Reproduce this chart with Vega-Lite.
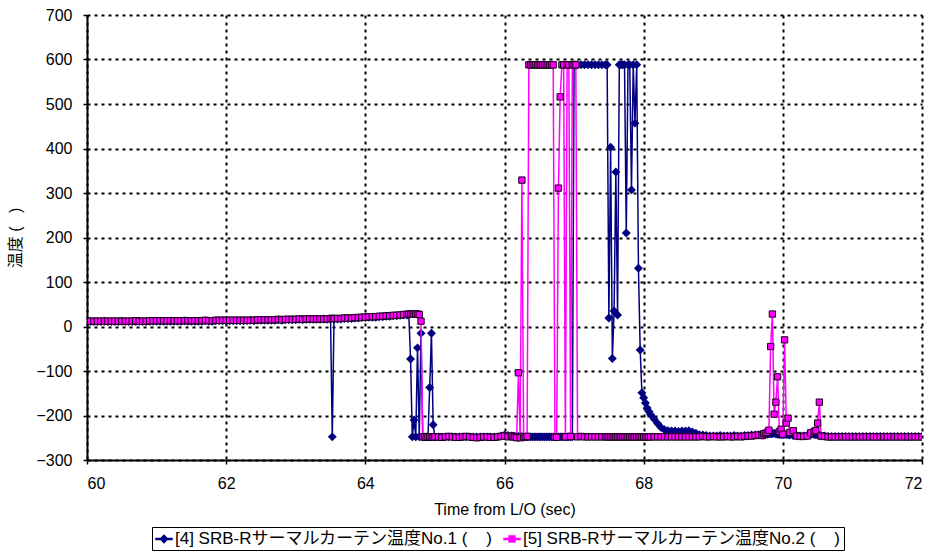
{
"$schema": "https://vega.github.io/schema/vega-lite/v6.json",
"autosize": "none",
"width": 835,
"height": 445,
"padding": {"left": 87, "top": 15, "right": 16, "bottom": 93},
"background": "white",
"data": {"values": [
{"t":60,"a":11,"b":12},{"t":60.05,"a":11,"b":12},{"t":60.1,"a":11,"b":12},{"t":60.15,"a":11,"b":12},{"t":60.2,"a":11,"b":12},{"t":60.25,"a":12,"b":12},{"t":60.3,"a":11,"b":12},{"t":60.35,"a":11,"b":12},{"t":60.4,"a":11,"b":12},{"t":60.45,"a":11,"b":12},
{"t":60.5,"a":12,"b":12},{"t":60.55,"a":11,"b":12},{"t":60.6,"a":11,"b":12},{"t":60.65,"a":11,"b":12},{"t":60.7,"a":11,"b":13},{"t":60.75,"a":12,"b":12},{"t":60.8,"a":11,"b":12},{"t":60.85,"a":11,"b":12},{"t":60.9,"a":12,"b":13},{"t":60.95,"a":12,"b":13},
{"t":61,"a":12,"b":13},{"t":61.05,"a":12,"b":13},{"t":61.1,"a":12,"b":13},{"t":61.15,"a":12,"b":13},{"t":61.2,"a":12,"b":13},{"t":61.25,"a":12,"b":13},{"t":61.3,"a":12,"b":13},{"t":61.35,"a":12,"b":13},{"t":61.4,"a":13,"b":13},{"t":61.45,"a":12,"b":13},
{"t":61.5,"a":12,"b":13},{"t":61.55,"a":12,"b":13},{"t":61.6,"a":12,"b":13},{"t":61.65,"a":12,"b":13},{"t":61.7,"a":13,"b":14},{"t":61.75,"a":12,"b":13},{"t":61.8,"a":12,"b":13},{"t":61.85,"a":13,"b":14},{"t":61.9,"a":13,"b":14},{"t":61.95,"a":13,"b":14},
{"t":62,"a":13,"b":14},{"t":62.05,"a":13,"b":14},{"t":62.1,"a":13,"b":14},{"t":62.15,"a":13,"b":14},{"t":62.2,"a":13,"b":14},{"t":62.25,"a":13,"b":14},{"t":62.3,"a":13,"b":14},{"t":62.35,"a":14,"b":14},{"t":62.4,"a":13,"b":14},{"t":62.45,"a":14,"b":15},
{"t":62.5,"a":14,"b":15},{"t":62.55,"a":14,"b":15},{"t":62.6,"a":14,"b":15},{"t":62.65,"a":14,"b":15},{"t":62.7,"a":14,"b":15},{"t":62.75,"a":15,"b":16},{"t":62.8,"a":14,"b":15},{"t":62.85,"a":15,"b":16},{"t":62.9,"a":15,"b":16},{"t":62.95,"a":15,"b":16},
{"t":63,"a":15,"b":16},{"t":63.05,"a":16,"b":17},{"t":63.1,"a":15,"b":16},{"t":63.15,"a":16,"b":17},{"t":63.2,"a":16,"b":17},{"t":63.25,"a":16,"b":17},{"t":63.3,"a":16,"b":17},{"t":63.35,"a":16,"b":17},{"t":63.4,"a":17,"b":17},{"t":63.45,"a":16,"b":17},
{"t":63.5,"a":17,"b":18},{"t":63.525,"a":-248,"b":18},{"t":63.55,"a":17,"b":18},{"t":63.6,"a":17,"b":18},{"t":63.65,"a":17,"b":18},{"t":63.7,"a":18,"b":19},{"t":63.75,"a":18,"b":19},{"t":63.8,"a":18,"b":19},{"t":63.85,"a":19,"b":20},{"t":63.9,"a":19,"b":20},{"t":63.95,"a":20,"b":21},
{"t":64,"a":20,"b":21},{"t":64.05,"a":21,"b":22},{"t":64.1,"a":21,"b":22},{"t":64.15,"a":21,"b":22},{"t":64.2,"a":22,"b":23},{"t":64.25,"a":22,"b":23},{"t":64.3,"a":23,"b":24},{"t":64.35,"a":23,"b":24},{"t":64.4,"a":24,"b":25},{"t":64.45,"a":24,"b":25},
{"t":64.5,"a":25,"b":26},{"t":64.55,"a":26,"b":27},{"t":64.6,"a":26,"b":27},{"t":64.625,"a":27,"b":28},{"t":64.65,"a":-73,"b":28},{"t":64.675,"a":-248,"b":28},{"t":64.7,"a":-210,"b":28},{"t":64.725,"a":-248,"b":28},{"t":64.75,"a":-48,"b":28},{"t":64.775,"a":-248,"b":27},
{"t":64.8,"a":-15,"b":12},{"t":64.825,"a":-248,"b":-248},{"t":64.85,"a":-248,"b":-248},{"t":64.875,"a":-248,"b":-249},{"t":64.9,"a":-248,"b":-248},{"t":64.925,"a":-137,"b":-248},{"t":64.95,"a":-15,"b":-248},{"t":64.975,"a":-221,"b":-249},{"t":65,"a":-248,"b":-248},
{"t":65.05,"a":-248,"b":-248},{"t":65.1,"a":-248,"b":-249},{"t":65.15,"a":-248,"b":-248},{"t":65.2,"a":-248,"b":-247},{"t":65.25,"a":-248,"b":-248},{"t":65.3,"a":-248,"b":-249},{"t":65.35,"a":-248,"b":-249},{"t":65.4,"a":-248,"b":-248},{"t":65.45,"a":-248,"b":-247},
{"t":65.5,"a":-248,"b":-248},{"t":65.55,"a":-248,"b":-249},{"t":65.6,"a":-248,"b":-250},{"t":65.65,"a":-248,"b":-249},{"t":65.7,"a":-248,"b":-248},{"t":65.75,"a":-248,"b":-248},{"t":65.8,"a":-248,"b":-249},{"t":65.85,"a":-248,"b":-249},{"t":65.9,"a":-248,"b":-248},
{"t":65.95,"a":-246,"b":-247},{"t":66,"a":-244,"b":-246},{"t":66.05,"a":-245,"b":-248},{"t":66.1,"a":-246,"b":-246},
{"t":66.125,"a":-246,"b":-248},{"t":66.15,"a":-247,"b":-248},{"t":66.175,"a":-247,"b":-250},{"t":66.2,"a":-247,"b":-104},{"t":66.225,"a":-247,"b":-250},{"t":66.25,"a":-247,"b":329},{"t":66.275,"a":-248,"b":-248},{"t":66.3,"a":-248,"b":-248},{"t":66.325,"a":-248,"b":-247},
{"t":66.35,"a":-248,"b":588},{"t":66.375,"a":-248,"b":588},{"t":66.4,"a":-248,"b":588},{"t":66.425,"a":-248,"b":588},{"t":66.45,"a":-248,"b":588},{"t":66.475,"a":-248,"b":588},{"t":66.5,"a":-248,"b":588},{"t":66.525,"a":-248,"b":588},{"t":66.55,"a":-248,"b":588},
{"t":66.575,"a":-248,"b":588},{"t":66.6,"a":-248,"b":588},{"t":66.625,"a":-248,"b":588},{"t":66.65,"a":-248,"b":588},{"t":66.675,"a":-248,"b":588},{"t":66.7,"a":-248,"b":588},{"t":66.725,"a":-248,"b":-248},{"t":66.75,"a":-248,"b":-249},{"t":66.775,"a":-248,"b":311},
{"t":66.8,"a":-248,"b":516},{"t":66.825,"a":-248,"b":588},{"t":66.85,"a":-248,"b":588},{"t":66.875,"a":-248,"b":-248},{"t":66.9,"a":-248,"b":588},{"t":66.925,"a":-248,"b":588},{"t":66.95,"a":-248,"b":-247},{"t":66.975,"a":-248,"b":588},{"t":67,"a":588,"b":588},
{"t":67.025,"a":588,"b":588},{"t":67.05,"a":588,"b":-248},{"t":67.1,"a":588,"b":-247},{"t":67.15,"a":588,"b":-248},{"t":67.2,"a":588,"b":-248},{"t":67.25,"a":588,"b":-248},{"t":67.3,"a":588,"b":-248},{"t":67.35,"a":588,"b":-248},{"t":67.4,"a":588,"b":-248},
{"t":67.45,"a":588,"b":-248},{"t":67.475,"a":588,"b":-248},{"t":67.5,"a":19,"b":-248},{"t":67.525,"a":403,"b":-248},{"t":67.55,"a":-72,"b":-248},{"t":67.575,"a":35,"b":-248},{"t":67.6,"a":347,"b":-248},{"t":67.625,"a":26,"b":-248},{"t":67.65,"a":588,"b":-248},
{"t":67.675,"a":588,"b":-248},{"t":67.7,"a":588,"b":-248},{"t":67.725,"a":588,"b":-248},{"t":67.75,"a":210,"b":-248},{"t":67.775,"a":588,"b":-248},{"t":67.8,"a":588,"b":-248},{"t":67.825,"a":307,"b":-248},{"t":67.85,"a":588,"b":-248},{"t":67.875,"a":457,"b":-248},
{"t":67.9,"a":588,"b":-248},{"t":67.925,"a":131,"b":-248},{"t":67.95,"a":-53,"b":-248},{"t":67.975,"a":-149,"b":-248},{"t":68,"a":-160,"b":-248},{"t":68.025,"a":-172,"b":-248},{"t":68.05,"a":-183,"b":-248},{"t":68.075,"a":-191,"b":-248},{"t":68.1,"a":-198,"b":-248},
{"t":68.15,"a":-208,"b":-248},{"t":68.2,"a":-218,"b":-248},{"t":68.25,"a":-227,"b":-248},{"t":68.3,"a":-232,"b":-248},{"t":68.35,"a":-234,"b":-248},{"t":68.4,"a":-235,"b":-248},{"t":68.45,"a":-235,"b":-248},{"t":68.5,"a":-236,"b":-248},{"t":68.55,"a":-235,"b":-248},
{"t":68.6,"a":-235,"b":-248},{"t":68.65,"a":-234,"b":-248},{"t":68.7,"a":-237,"b":-248},{"t":68.75,"a":-240,"b":-248},{"t":68.8,"a":-243,"b":-248},{"t":68.85,"a":-244,"b":-247},{"t":68.9,"a":-245,"b":-248},{"t":68.95,"a":-246,"b":-248},{"t":69,"a":-246,"b":-247},
{"t":69.05,"a":-246,"b":-248},{"t":69.1,"a":-245,"b":-248},{"t":69.15,"a":-246,"b":-248},{"t":69.2,"a":-246,"b":-247},{"t":69.25,"a":-246,"b":-248},{"t":69.3,"a":-245,"b":-248},{"t":69.35,"a":-246,"b":-247},{"t":69.4,"a":-246,"b":-248},{"t":69.45,"a":-245,"b":-247},
{"t":69.5,"a":-245,"b":-246},{"t":69.55,"a":-244,"b":-246},{"t":69.6,"a":-244,"b":-245},{"t":69.65,"a":-243,"b":-244},{"t":69.7,"a":-244,"b":-245},{"t":69.725,"a":-244,"b":-241},{"t":69.75,"a":-243,"b":-240},{"t":69.775,"a":-242,"b":-238},{"t":69.8,"a":-241,"b":-233},
{"t":69.825,"a":-241,"b":-45},{"t":69.85,"a":-241,"b":28},{"t":69.875,"a":-240,"b":-197},{"t":69.9,"a":-241,"b":-170},{"t":69.925,"a":-242,"b":-113},{"t":69.95,"a":-243,"b":-236},{"t":69.975,"a":-243,"b":-231},{"t":70,"a":-242,"b":-242},{"t":70.025,"a":-242,"b":-30},
{"t":70.05,"a":-243,"b":-217},{"t":70.075,"a":-243,"b":-206},{"t":70.1,"a":-244,"b":-238},{"t":70.15,"a":-245,"b":-234},{"t":70.2,"a":-245,"b":-246},{"t":70.25,"a":-246,"b":-247},{"t":70.3,"a":-246,"b":-247},{"t":70.35,"a":-245,"b":-246},{"t":70.4,"a":-244,"b":-239},
{"t":70.45,"a":-243,"b":-236},{"t":70.475,"a":-243,"b":-234},{"t":70.5,"a":-244,"b":-217},{"t":70.525,"a":-245,"b":-170},{"t":70.55,"a":-246,"b":-246},{"t":70.6,"a":-246,"b":-247},{"t":70.65,"a":-247,"b":-248},{"t":70.7,"a":-247,"b":-248},{"t":70.75,"a":-247,"b":-248},
{"t":70.8,"a":-247,"b":-248},{"t":70.85,"a":-247,"b":-248},{"t":70.9,"a":-247,"b":-248},{"t":70.95,"a":-247,"b":-248},{"t":71,"a":-247,"b":-248},{"t":71.05,"a":-247,"b":-248},{"t":71.1,"a":-247,"b":-248},{"t":71.15,"a":-247,"b":-248},{"t":71.2,"a":-247,"b":-248},
{"t":71.25,"a":-247,"b":-248},{"t":71.3,"a":-247,"b":-248},{"t":71.35,"a":-247,"b":-248},{"t":71.4,"a":-247,"b":-248},{"t":71.45,"a":-247,"b":-248},{"t":71.5,"a":-247,"b":-248},{"t":71.55,"a":-247,"b":-248},{"t":71.6,"a":-247,"b":-248},{"t":71.65,"a":-247,"b":-248},
{"t":71.7,"a":-247,"b":-248},{"t":71.75,"a":-247,"b":-248},{"t":71.8,"a":-247,"b":-248},{"t":71.85,"a":-247,"b":-248},{"t":71.9,"a":-247,"b":-248},{"t":71.95,"a":-247,"b":-248},{"t":72,"a":-247,"b":-248}
]},
"layer": [
{
"mark": {"type": "line", "strokeWidth": 1.5, "clip": true},
"encoding": {
"x": {"field": "t", "type": "quantitative", "title": "Time from L/O (sec)", "scale": {"domain": [60, 72], "nice": false, "zero": false},
"axis": {"values": [60, 62, 64, 66, 68, 70, 72], "format": "d", "grid": true, "labelPadding": 11, "titlePadding": 10}},
"y": {"field": "a", "type": "quantitative", "title": "温度 (\u00a0\u00a0\u00a0)", "scale": {"domain": [-300, 700], "nice": false, "zero": false},
"axis": {"values": [-300, -200, -100, 0, 100, 200, 300, 400, 500, 600, 700], "format": "d", "grid": true, "labelPadding": 11, "titlePadding": 12}},
"color": {"datum": "a", "type": "nominal", "scale": {"domain": ["a", "b"], "range": ["#000080", "#FF00FF"]}}
}
},
{
"mark": {"type": "point", "shape": "diamond", "filled": true, "size": 80, "opacity": 1, "clip": true},
"encoding": {
"x": {"field": "t", "type": "quantitative", "title": "Time from L/O (sec)"},
"y": {"field": "a", "type": "quantitative", "title": "温度 (\u00a0\u00a0\u00a0)"},
"color": {"datum": "a", "type": "nominal"}
}
},
{
"mark": {"type": "line", "strokeWidth": 1.5, "clip": true},
"encoding": {
"x": {"field": "t", "type": "quantitative", "title": "Time from L/O (sec)"},
"y": {"field": "b", "type": "quantitative", "title": "温度 (\u00a0\u00a0\u00a0)"},
"color": {"datum": "b", "type": "nominal"}
}
},
{
"mark": {"type": "point", "shape": "square", "filled": true, "size": 40, "opacity": 1, "stroke": "#1a001a", "strokeWidth": 1, "clip": true},
"encoding": {
"x": {"field": "t", "type": "quantitative", "title": "Time from L/O (sec)"},
"y": {"field": "b", "type": "quantitative", "title": "温度 (\u00a0\u00a0\u00a0)"},
"color": {"datum": "b", "type": "nominal"}
}
},
{
"transform": [{"filter": "datum.t == 72"}, {"fold": ["a", "b"], "as": ["key", "val"]}],
"mark": {"type": "point", "filled": true, "opacity": 1, "size": 20, "clip": true},
"encoding": {
"x": {"field": "t", "type": "quantitative", "title": "Time from L/O (sec)"},
"y": {"field": "val", "type": "quantitative", "title": "温度 (\u00a0\u00a0\u00a0)"},
"color": {"field": "key", "type": "nominal",
"legend": {"title": null, "orient": "none", "legendX": 65, "legendY": 512, "direction": "horizontal",
"strokeColor": "black", "padding": 3, "columnPadding": 8,
"labelExpr": "datum.value === 'a' ? '[4] SRB-Rサーマルカーテン温度No.1 (\u00a0\u00a0\u00a0\u00a0)' : '[5] SRB-Rサーマルカーテン温度No.2 (\u00a0\u00a0\u00a0\u00a0)'",
"labelFont": "Liberation Sans Narrow, Liberation Sans, Noto Sans CJK JP", "labelFontSize": 17, "labelColor": "black", "labelLimit": 0,
"symbolType": "M-1,-0.07H1V0.07H-1ZM0,-0.45L0.45,0L0,0.45L-0.45,0Z",
"symbolSize": 256, "symbolOffset": 0, "labelOffset": 2}},
"shape": {"field": "key", "type": "nominal",
"scale": {"domain": ["a", "b"], "range": ["M-1,-0.07H1V0.07H-1ZM0,-0.45L0.45,0L0,0.45L-0.45,0Z", "M-1,-0.07H1V0.07H-1ZM-0.36,-0.36H0.36V0.36H-0.36Z"]},
"legend": {"title": null, "orient": "none", "legendX": 65, "legendY": 512, "direction": "horizontal",
"strokeColor": "black", "padding": 3, "columnPadding": 8,
"labelExpr": "datum.value === 'a' ? '[4] SRB-Rサーマルカーテン温度No.1 (\u00a0\u00a0\u00a0\u00a0)' : '[5] SRB-Rサーマルカーテン温度No.2 (\u00a0\u00a0\u00a0\u00a0)'",
"labelFont": "Liberation Sans Narrow, Liberation Sans, Noto Sans CJK JP", "labelFontSize": 17, "labelColor": "black", "labelLimit": 0,
"symbolSize": 256, "symbolOffset": 0, "labelOffset": 2}}
}
}
],
"config": {
"view": {"stroke": null},
"font": "Liberation Sans",
"axis": {
"labelFont": "Liberation Sans", "labelFontSize": 16, "labelColor": "black",
"titleFont": "Liberation Sans, Noto Sans CJK JP", "titleFontSize": 16, "titleFontWeight": "normal", "titleColor": "black",
"domainColor": "black", "domainWidth": 2, "tickColor": "black", "tickSize": 4, "tickWidth": 1.5,
"gridColor": "black", "gridDash": [3, 4], "gridWidth": 2, "gridOpacity": 1
}
}
}
